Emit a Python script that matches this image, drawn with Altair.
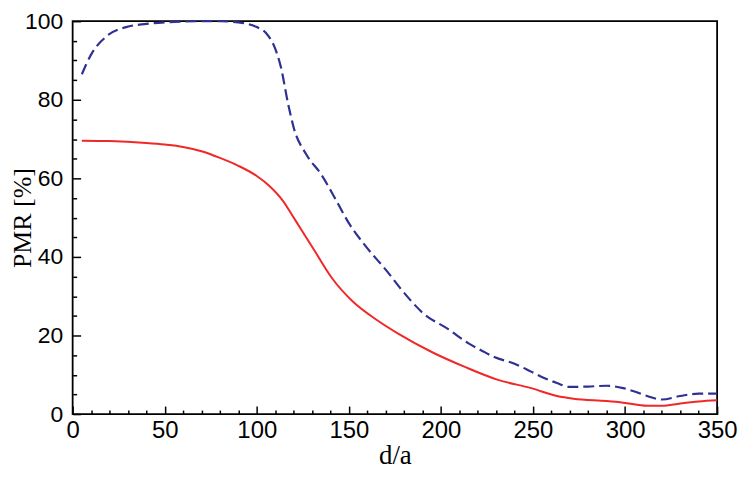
import altair as alt
import pandas as pd

# Blue dashed curve
blue_x = [5, 10, 18, 29, 40, 50, 60, 70, 80, 90, 95, 100, 105, 110, 113, 117, 120, 127, 135, 143,
          150, 159, 171, 178, 184, 190, 204, 215, 222, 229, 240, 249, 256, 263, 270, 280, 290, 299,
          306, 312, 320, 330, 340, 350]
blue_y = [86.5, 91.5, 96, 98.5, 99.3, 99.7, 99.9, 100, 100, 99.7, 99.3, 98.5, 97, 93, 88.5, 79, 73,
          66, 61, 54.5, 48.6, 42.8, 36.2, 32, 28.7, 25.8, 21.6, 18, 16.2, 14.5, 12.8, 10.8, 9.2, 7.9,
          6.9, 7.0, 7.2, 6.6, 5.6, 4.6, 3.7, 4.6, 5.2, 5.2]

# Red solid curve
red_x = [5, 20, 40, 50, 60, 70, 80, 90, 100, 107, 114, 119, 123, 132, 141, 152, 165, 177, 195,
         213, 231, 249, 263, 272, 290, 299, 312, 320, 330, 340, 350]
red_y = [69.6, 69.5, 69.0, 68.6, 68.0, 66.9, 65.2, 63.2, 60.6, 58.0, 54.4, 50.8, 47.8, 41.1,
         34.5, 28.7, 24, 20.4, 15.8, 12.0, 8.7, 6.6, 4.6, 3.9, 3.3, 2.9, 2.1, 2.1, 2.7, 3.2, 3.5]

x_major = [0, 50, 100, 150, 200, 250, 300, 350]
x_minor = [v for v in range(10, 350, 10) if v % 50 != 0]
y_major = [0, 20, 40, 60, 80, 100]
y_minor = [v for v in range(5, 100, 5) if v % 20 != 0]

red_df = pd.DataFrame({"d": red_x, "pmr": red_y})
blue_df = pd.DataFrame({"d": blue_x, "pmr": blue_y})

xs = alt.Scale(domain=[0, 350], nice=False, zero=False)
ys = alt.Scale(domain=[0, 100], nice=False, zero=False)

lab_font = "Liberation Sans"
tit_font = "Liberation Serif"

red = alt.Chart(red_df).mark_line(color="#f02828", strokeWidth=2, interpolate="monotone").encode(
    x=alt.X("d:Q", scale=xs, axis=alt.Axis(
        orient="bottom", values=x_major, tickSize=8, offset=-8, domain=False, grid=False,
        tickColor="black", tickWidth=1.5, labelFont=lab_font, labelFontSize=24,
        labelColor="black", labelPadding=5, title="d/a", titleFont=tit_font,
        titleFontSize=27, titleFontWeight="normal", titleColor="black", titlePadding=0,
        labelFlush=False, labelOverlap=False)),
    y=alt.Y("pmr:Q", scale=ys, axis=alt.Axis(
        orient="left", values=y_major, tickSize=8, offset=-8, domain=False, grid=False,
        tickColor="black", tickWidth=1.5, labelFont=lab_font, labelFontSize=23,
        labelColor="black", labelPadding=10, title="PMR [%]", titleFont=tit_font,
        titleFontSize=26, titleFontWeight="normal", titleColor="black", titleX=-50,
        titleBaseline="alphabetic", labelFlush=False, labelOverlap=False)),
)

blue = alt.Chart(blue_df).mark_line(color="#2e3192", strokeWidth=2.2, strokeDash=[11, 5],
                                     interpolate="monotone").encode(
    x=alt.X("d:Q", scale=xs, axis=alt.Axis(
        orient="bottom", values=x_minor, tickSize=4, offset=-4, domain=False, grid=False,
        tickColor="black", tickWidth=1.5, labels=False, title=None)),
    y=alt.Y("pmr:Q", scale=ys, axis=alt.Axis(
        orient="left", values=y_minor, tickSize=4, offset=-4, domain=False, grid=False,
        tickColor="black", tickWidth=1.5, labels=False, title=None)),
)

chart = alt.layer(red, blue).resolve_axis(x="independent", y="independent").properties(
    width=648, height=395,
    autosize=alt.AutoSizeParams(type="none"),
    padding={"left": 65, "top": 12, "right": 22, "bottom": 60},
).configure(background="white").configure_view(stroke="black", strokeWidth=1.8)

chart.save("out.html", embed_options={"renderer": "svg", "actions": False})
